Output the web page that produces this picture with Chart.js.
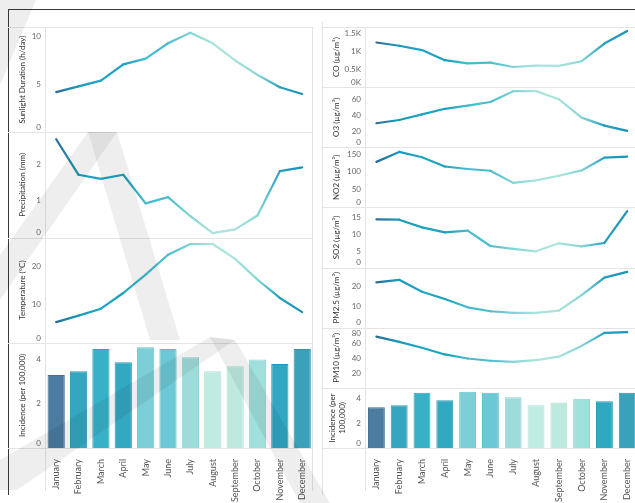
<!DOCTYPE html>
<html>
<head>
<meta charset="utf-8">
<script src="https://cdn.jsdelivr.net/npm/chart.js@4.4.0/dist/chart.umd.min.js"></script>
<style>
  html, body { margin: 0; padding: 0; background: #fff; overflow: hidden; }
  #wrap { position: relative; width: 635px; height: 503px; overflow: hidden; }
  canvas { position: absolute; top: 0; }
  #leftChart { left: 0; }
  #rightChart { left: 320px; }
  .frameTop { position: absolute; left: 8px; top: 9px; width: 627px; border-top: 1px solid #3a3a3a; }
  .frameLeft { position: absolute; left: 8px; top: 9px; height: 486px; border-left: 1px solid #3a3a3a; }
  .paneEdge { position: absolute; left: 322px; top: 22px; height: 473px; border-left: 1px solid #e2e2e2; }
  svg { position: absolute; left: 0; top: 0; pointer-events: none; }
</style>
</head>
<body>
<div id="wrap">
  <div class="frameTop"></div>
  <div class="frameLeft"></div>
  <div class="paneEdge"></div>
  <canvas id="leftChart" width="316" height="503"></canvas>
  <canvas id="rightChart" width="321" height="503"></canvas>
  <svg width="635" height="503">
    <g fill="#000" fill-opacity="0.068">
      <polygon points="0,0 36,0 0,85"/>
      <polygon points="88,132 117,132 0,300 0,255"/>
      <polygon points="88,132 117,132 180,340 150,340"/>
      <polygon points="210,337 235,340 17,490 0,490 0,460"/>
      <polygon points="210,337 235,340 330,503 300,503"/>
    </g>
  </svg>
</div>

<script>
const months = ["January", "February", "March", "April", "May", "June", "July",
  "August", "September", "October", "November", "December"];

// climate
const sunlight = [4.2, 4.8, 5.4, 7.1, 7.7, 9.3, 10.4, 9.3, 7.5, 6.0, 4.7, 4.0];
const precipitation = [2.68, 1.71, 1.6, 1.71, 0.93, 1.1, 0.58, 0.12, 0.22, 0.6, 1.81, 1.91];
const temperature = [5.4, 7.1, 8.9, 13.0, 17.8, 23.0, 25.8, 25.8, 21.9, 16.5, 11.7, 8.0];
const incidence = [3.3, 3.46, 4.47, 3.87, 4.55, 4.47, 4.1, 3.46, 3.69, 3.99, 3.79, 4.47];

// pollutants (µg/m³)
const co = [1240, 1150, 1030, 750, 660, 680, 560, 600, 590, 720, 1210, 1560];
const o3 = [30, 34, 41, 48, 52, 56.5, 70, 70, 60, 37, 27, 20.5];
const no2 = [128, 156, 141, 115, 108, 103, 69, 76, 89, 104, 140, 143];
const so2 = [14.5, 14.4, 12.1, 10.6, 11.1, 6.5, 5.6, 4.9, 7.3, 6.4, 7.4, 17.0];
const pm25 = [21.8, 23, 17.3, 13.8, 9.8, 7.9, 7.1, 7.1, 8.2, 15.7, 24.1, 26.8];
const pm10 = [69, 62, 54, 45, 39.5, 36.5, 35, 37.3, 42, 56.5, 74, 75];

// tick labels
const sunTicks = [0, 5, 10];
const precTicks = [0, 1, 2];
const tempTicks = [0, 10, 20];
const incTicks = [0, 2, 4];
const coTicks = [0, 500, 1000, 1500];
const o3Ticks = [0, 20, 40, 60];
const no2Ticks = [0, 50, 100, 150];
const so2Ticks = [0, 5, 10, 15];
const pm25Ticks = [0, 10, 20];
const pm10Ticks = [0, 20, 40, 60, 80];

// month colours (lines / bar borders) and bar fills
const monthColors = ["#2a6c96", "#1a9bbc", "#1ea6c4", "#1aa0c0", "#46bccf", "#4abdcf",
  "#82d4d6", "#abe4dd", "#a8e3dc", "#88d6d5", "#21a0c1", "#1d91b6"];
const barColors = ["#4c7c9f", "#36a6c0", "#38b1c8", "#33a8c1", "#7ccfd7", "#6cc8d4",
  "#a0dbdb", "#c0ebe1", "#bde9df", "#a0dfdc", "#31a7c2", "#3aa1bb"];
const barBorders = ["#3f6f93", "#2a9ab6", "#2ca6bf", "#279db8", "#6cc4cf", "#5cbdcb",
  "#8fd1d2", "#aee2d8", "#ade0d7", "#8fd4d2", "#2399b6", "#2d94b0"];

Chart.defaults.font.family = "Lato";
Chart.defaults.animation = false;

// gradient from one month colour to the next on every line segment
const segGrad = (c) => {
  const g = c.chart.ctx.createLinearGradient(c.p0.x, 0, c.p1.x, 0);
  g.addColorStop(0, monthColors[c.p0DataIndex]);
  g.addColorStop(1, monthColors[c.p1DataIndex]);
  return g;
};

// panel separators, top line and axis lines
const panelLines = {
  id: "panelLines",
  beforeDatasetsDraw(chart, args, opts) {
    const { ctx, chartArea } = chart;
    ctx.save();
    ctx.strokeStyle = "#e4e4e4";
    ctx.lineWidth = 1;
    ctx.beginPath();
    Object.values(chart.scales).filter(s => s.axis === "y").forEach(s => {
      const y = Math.round(s.bottom) + 0.5;
      ctx.moveTo(opts.from, y);
      ctx.lineTo(chartArea.right, y);
    });
    const top = Math.round(chartArea.top) + 0.5;
    ctx.moveTo(opts.from, top);
    ctx.lineTo(chartArea.right, top);
    const xl = Math.round(chartArea.left) + 0.5;
    ctx.moveTo(xl, chartArea.top);
    ctx.lineTo(xl, chart.height - opts.tail);
    if (opts.edge) {
      const xr = Math.round(chartArea.right) - 0.5;
      ctx.moveTo(xr, chartArea.top);
      ctx.lineTo(xr, chart.height - opts.tail);
    }
    ctx.stroke();
    ctx.restore();
  }
};

const zeroUp = (v) => (v === 0 ? ["0", ""] : v);

const yAxis = (title, ticks, max, weight, titlePad, fmt) => ({
  type: "linear",
  position: "left",
  stack: "col",
  stackWeight: 1,
  weight: weight,
  min: 0,
  max: max,
  afterBuildTicks: (s) => { s.ticks = ticks.map(v => ({ value: v })); },
  afterFit: (s) => { s.width = 45; },
  grid: { display: false, drawTicks: false },
  border: { display: false },
  ticks: {
    autoSkip: false,
    padding: 4,
    color: "#666",
    font: { size: 8 },
    callback: fmt || zeroUp
  },
  title: {
    display: true,
    text: title,
    color: "#333",
    font: { size: 8 },
    padding: { top: titlePad, bottom: 0 }
  }
});

const xAxis = {
  type: "category",
  afterFit: (s) => { s.height = 55; },
  grid: { display: false },
  border: { display: false },
  ticks: {
    autoSkip: false,
    minRotation: 90,
    maxRotation: 90,
    padding: 3,
    color: "#555",
    font: { size: 9 }
  }
};

const lineSet = (data, axis) => ({
  type: "line",
  data: data,
  yAxisID: axis,
  borderColor: monthColors[0],
  borderWidth: 2.2,
  borderCapStyle: "round",
  borderJoinStyle: "round",
  pointRadius: 0,
  tension: 0,
  segment: { borderColor: segGrad }
});

const barSet = (axis, pct) => ({
  type: "bar",
  data: incidence,
  yAxisID: axis,
  backgroundColor: barColors,
  borderColor: barBorders,
  borderWidth: 1,
  barPercentage: pct,
  categoryPercentage: 1
});

// left column: climate
new Chart(document.getElementById("leftChart"), {
  type: "bar",
  data: {
    labels: months,
    datasets: [
      lineSet(sunlight, "sun"),
      lineSet(precipitation, "prec"),
      lineSet(temperature, "temp"),
      barSet("inc", 0.77)
    ]
  },
  options: {
    responsive: false,
    layout: { padding: { top: 27, left: 0, right: 0, bottom: 0 } },
    plugins: {
      legend: { display: false },
      tooltip: { enabled: false },
      panelLines: { from: 8, tail: 12, edge: true }
    },
    scales: {
      x: xAxis,
      sun: yAxis("Sunlight Duration (h/day)", sunTicks, 11, 4, 18),
      prec: yAxis("Precipitation (mm)", precTicks, 2.87, 3, 18),
      temp: yAxis("Temperature (°C)", tempTicks, 27.5, 2, 18),
      inc: yAxis("Incidence (per 100,000)", incTicks, 4.75, 1, 18)
    }
  },
  plugins: [panelLines]
});

// right column: pollutants
new Chart(document.getElementById("rightChart"), {
  type: "bar",
  data: {
    labels: months,
    datasets: [
      lineSet(co, "co"),
      lineSet(o3, "o3"),
      lineSet(no2, "no2"),
      lineSet(so2, "so2"),
      lineSet(pm25, "pm25"),
      lineSet(pm10, "pm10"),
      barSet("inc2", 0.74)
    ]
  },
  options: {
    responsive: false,
    layout: { padding: { top: 27, left: 0, right: 0, bottom: 0 } },
    plugins: {
      legend: { display: false },
      tooltip: { enabled: false },
      panelLines: { from: 3, tail: 12, edge: false }
    },
    scales: {
      x: xAxis,
      co: yAxis("CO (µg/m³)", coTicks, 1670, 7, 12,
        (v) => (v === 0 ? ["0K", ""] : (v / 1000) + "K")),
      o3: yAxis("O3 (µg/m³)", o3Ticks, 75, 6, 12),
      no2: yAxis("NO2 (µg/m³)", no2Ticks, 169, 5, 12),
      so2: yAxis("SO2 (µg/m³)", so2Ticks, 18.1, 4, 12),
      pm25: yAxis("PM2.5 (µg/m³)", pm25Ticks, 28.9, 3, 12),
      pm10: yAxis("PM10 (µg/m³)", pm10Ticks, 81, 2, 12,
        (v) => (v === 0 ? "" : v === 80 ? ["", "80"] : v)),
      inc2: yAxis(["Incidence (per", "100,000)"], incTicks, 4.87, 1, 8)
    }
  },
  plugins: [panelLines]
});
</script>
</body>
</html>
